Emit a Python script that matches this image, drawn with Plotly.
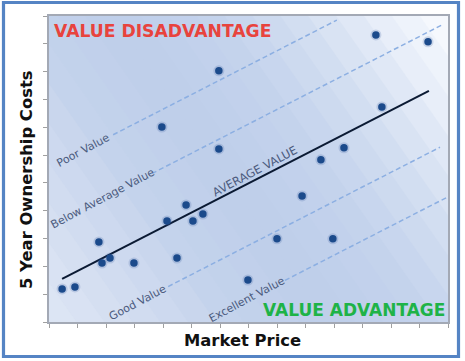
import math
import plotly.graph_objects as go

# ---------------- data ----------------
market_price = [0.46, 0.91, 1.75, 1.86, 2.14, 2.98, 4.14, 4.49, 4.81, 5.05, 5.40, 3.96,
                5.96, 5.96, 6.98, 8.00, 8.88, 9.96, 9.54, 10.35, 11.68, 11.47, 13.30]
ownership_cost = [1.19, 1.26, 2.88, 2.12, 2.30, 2.12, 3.63, 2.30, 4.21, 3.63, 3.88, 7.01,
                  9.03, 6.22, 1.51, 2.99, 4.53, 2.99, 5.83, 6.26, 7.73, 10.32, 10.07]

value_slope = 0.525
line_names = ["Poor Value", "Below Average Value", "AVERAGE VALUE", "Good Value", "Excellent Value"]
line_intercepts = [5.55, 3.44, 1.31, -0.92, -2.85]
line_x_start = [2.25, 3.61, 0.46, 4.18, 8.28]
line_x_end = [10.10, 13.82, 13.33, 13.72, 13.96]
label_x = [1.19, 1.89, 7.23, 3.12, 6.95]
label_offset = [0.0, 0.0, 0.32, 0.0, 0.0]

X_RANGE = [0, 14]
Y_RANGE = [0, 11]

# ---------------- layout geometry (px) ----------------
W_FIG, H_FIG = 465, 361
L, R, T, B = 49, 448, 16, 322
PW, PH = R - L, B - T


def px_to_paper(px, py):
    return (px - L) / PW, (B - py) / PH


fig = go.Figure()

# ---------------- background bands (gradient) ----------------
ang = math.radians(35)
ca, sa = math.cos(ang), math.sin(ang)
tmax = PW * ca + PH * sa
stops = [(0.0, (222, 231, 245)), (0.15, (210, 221, 240)), (0.30, (196, 211, 236)),
         (0.45, (190, 206, 234)), (0.60, (195, 210, 236)), (0.72, (206, 219, 240)),
         (0.82, (220, 229, 244)), (0.90, (234, 240, 250)), (1.0, (248, 250, 254))]


def color_at(t):
    for (t0, c0), (t1, c1) in zip(stops[:-1], stops[1:]):
        if t0 <= t <= t1:
            f = (t - t0) / (t1 - t0)
            return tuple(int(round(c0[i] + f * (c1[i] - c0[i]))) for i in range(3))
    return stops[-1][1]


def clip(poly, sign, c):
    out = []
    n = len(poly)
    for i in range(n):
        p, q = poly[i], poly[(i + 1) % n]
        fp = sign * (p[0] * ca + p[1] * sa - c)
        fq = sign * (q[0] * ca + q[1] * sa - c)
        if fp >= 0:
            out.append(p)
        if (fp >= 0) != (fq >= 0):
            s = fp / (fp - fq)
            out.append((p[0] + s * (q[0] - p[0]), p[1] + s * (q[1] - p[1])))
    return out


rect = [(0, 0), (PW, 0), (PW, PH), (0, PH)]
NB = 22
shapes = []
for k in range(NB):
    t0, t1 = k / NB * tmax, (k + 1) / NB * tmax
    poly = clip(clip(rect, 1, t0 - 0.3), -1, t1 + 0.3)
    if len(poly) < 3:
        continue
    col = color_at((k + 0.5) / NB)
    path = "M " + " L ".join(
        f"{X_RANGE[0] + u / PW * (X_RANGE[1] - X_RANGE[0]):.4f},{Y_RANGE[0] + v / PH * (Y_RANGE[1] - Y_RANGE[0]):.4f}"
        for u, v in poly) + " Z"
    shapes.append(dict(type="path", path=path, xref="x", yref="y", layer="below",
                       fillcolor=f"rgb{col}", line=dict(width=0)))

# outer frame
fx0, fy0 = px_to_paper(3.5, 356.5)
fx1, fy1 = px_to_paper(458.5, 2.5)
shapes.append(dict(type="rect", xref="paper", yref="paper", x0=fx0, y0=fy0, x1=fx1, y1=fy1,
                   line=dict(color="#5584c4", width=3.2), fillcolor="rgba(0,0,0,0)"))

# ---------------- value lines ----------------
for name, b0, xs, xe in zip(line_names, line_intercepts, line_x_start, line_x_end):
    xx = [xs, xe]
    yy = [b0 + value_slope * v for v in xx]
    if name == "AVERAGE VALUE":
        ln = dict(color="#0b1a33", width=2)
    else:
        ln = dict(color="#8cafe2", width=1.5, dash="5px,3px")
    fig.add_trace(go.Scatter(x=xx, y=yy, mode="lines", line=ln, hoverinfo="skip", showlegend=False))

# ---------------- points ----------------
fig.add_trace(go.Scatter(x=market_price, y=ownership_cost, mode="markers",
                         marker=dict(size=11, color="rgba(40,80,150,0.18)"),
                         hoverinfo="skip", showlegend=False))
fig.add_trace(go.Scatter(x=market_price, y=ownership_cost, mode="markers",
                         marker=dict(size=7.5, color="#1b4a8b"), showlegend=False))

# ---------------- annotations ----------------
ann = []
text_angle = -28
for name, b0, lx, off in zip(line_names, line_intercepts, label_x, label_offset):
    ann.append(dict(x=lx, y=b0 + value_slope * lx + off, xref="x", yref="y", text=name,
                    showarrow=False, textangle=text_angle,
                    font=dict(family="DejaVu Sans", size=11.5 if name == "AVERAGE VALUE" else 11,
                              color="#4b5b7e"),
                    xanchor="center", yanchor="middle"))

ax, ay = px_to_paper(52, 31)
ann.append(dict(x=ax, y=ay, xref="paper", yref="paper", text="<b>VALUE DISADVANTAGE</b>",
                showarrow=False, xanchor="left", yanchor="middle",
                font=dict(family="DejaVu Sans", size=17.2, color="#e8433d")))
ax, ay = px_to_paper(447, 310)
ann.append(dict(x=ax, y=ay, xref="paper", yref="paper", text="<b>VALUE ADVANTAGE</b>",
                showarrow=False, xanchor="right", yanchor="middle",
                font=dict(family="DejaVu Sans", size=17, color="#1eb347")))
ax, ay = px_to_paper(26, 180)
ann.append(dict(x=ax, y=ay, xref="paper", yref="paper", text="<b>5 Year Ownership Costs</b>",
                showarrow=False, textangle=-90, xanchor="center", yanchor="middle",
                font=dict(family="DejaVu Sans", size=16.4, color="#111111")))
ax, ay = px_to_paper(242.5, 340)
ann.append(dict(x=ax, y=ay, xref="paper", yref="paper", text="<b>Market Price</b>",
                showarrow=False, xanchor="center", yanchor="middle",
                font=dict(family="DejaVu Sans", size=16.4, color="#111111")))

axis_common = dict(showgrid=False, zeroline=False, showticklabels=False, ticks="outside",
                   ticklen=4, tickcolor="#a0a0a0", tickwidth=1, dtick=1,
                   showline=True, linecolor="#a3a9b5", linewidth=1.5, mirror=True)

fig.update_layout(
    width=W_FIG, height=H_FIG,
    margin=dict(l=L, r=W_FIG - R, t=T, b=H_FIG - B, pad=0),
    paper_bgcolor="white", plot_bgcolor="#c8d6ee",
    xaxis=dict(range=X_RANGE, tick0=0, **axis_common),
    yaxis=dict(range=Y_RANGE, tick0=0, **axis_common),
    shapes=shapes, annotations=ann, showlegend=False,
)

fig.write_html("out.html")
